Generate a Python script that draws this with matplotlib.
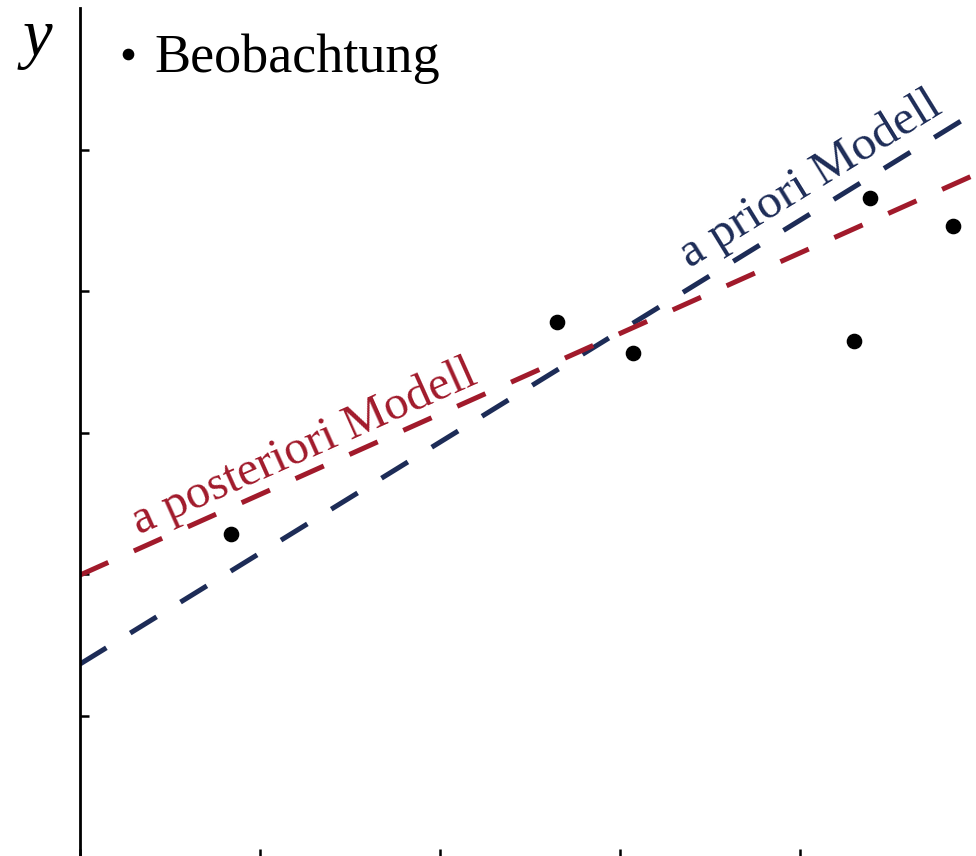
import numpy as np
import matplotlib
matplotlib.use("Agg")
import matplotlib.pyplot as plt

plt.rcParams['font.family'] = ['Liberation Serif', 'DejaVu Serif']
plt.rcParams['lines.scale_dashes'] = False

# Observations
obs_x = [0.84, 2.65, 3.07, 4.30, 4.39, 4.85]
obs_y = [2.286, 3.784, 3.565, 3.650, 4.661, 4.463]

# Linear models: intercept, slope
prior_line = [1.367, 0.784]
posterior_line = [1.996, 0.569]

x_ticks = [0, 1, 2, 3, 4]
y_ticks = [1, 2, 3, 4, 5]

NAVY = '#1d2c57'
CRIMSON = '#a11a2b'

W, H = 976, 856
fig = plt.figure(figsize=(W / 100, H / 100), dpi=100)
ax = fig.add_axes([80 / W, -1.5 / H, 896 / W, 849.5 / H])
ax.set_xlim(0, 4.978)
ax.set_ylim(0, 6.003)

xs = np.array([0, 4.978])
dash = (0, (22.3, 20.2))
ax.plot(xs, prior_line[0] + prior_line[1] * xs, color=NAVY, lw=3.6,
        linestyle=dash, dash_capstyle='butt', zorder=2)
ax.plot(xs, posterior_line[0] + posterior_line[1] * xs, color=CRIMSON, lw=3.6,
        linestyle=dash, dash_capstyle='butt', zorder=2)
sc = ax.scatter(obs_x, obs_y, s=105, color='black', zorder=3, label='Beobachtung')


def line_angle(line):
    return ax.transData.transform_angles(
        np.array([np.degrees(np.arctan(line[1]))]), np.array([[1.0, 1.0]]))[0]


ax.text(0.325, 2.28, 'a posteriori Modell', color=CRIMSON, fontsize=35,
        rotation=line_angle(posterior_line), rotation_mode='anchor',
        ha='left', va='baseline')
ax.text(3.39, 4.165, 'a priori Modell', color=NAVY, fontsize=35.5,
        rotation=line_angle(prior_line), rotation_mode='anchor',
        ha='left', va='baseline')

ax.legend(handles=[sc], loc='upper left', bbox_to_anchor=(114 / W, 1 - 34 / H),
          bbox_transform=fig.transFigure, frameon=False, fontsize=39,
          borderpad=0, borderaxespad=0, handlelength=0.5, handletextpad=0.24,
          markerscale=0.72, scatteryoffsets=[0.5])

fig.text(37 / W, 1 - 40 / H, 'y', fontsize=48, fontstyle='italic',
         ha='center', va='center')

for side in ['top', 'right']:
    ax.spines[side].set_visible(False)
for side in ['left', 'bottom']:
    ax.spines[side].set_linewidth(2.0)
ax.set_xticks(x_ticks)
ax.set_yticks(y_ticks)
ax.tick_params(direction='in', length=6.5, width=1.8, labelbottom=False,
               labelleft=False)

fig.savefig('out.png', dpi=100)
